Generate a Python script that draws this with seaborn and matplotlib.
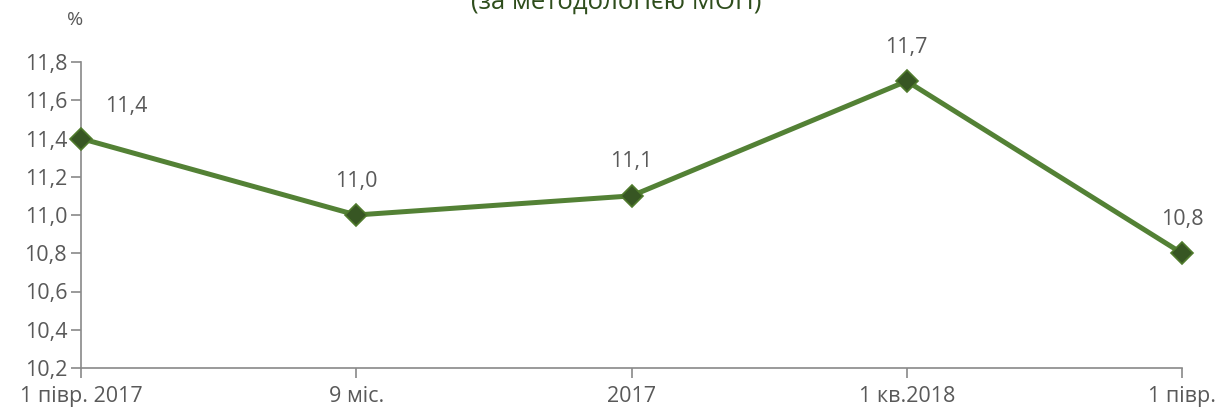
"""
Рівень безробіття (за методологією МОП), % - відтворення графіка
"""
import matplotlib
matplotlib.use("Agg")
import matplotlib.pyplot as plt
import seaborn as sns
import pandas as pd

# ----------------------------------------------------------
# Дані
# ----------------------------------------------------------
periods = ["1 півр. 2017", "9 міс.", "2017", "1 кв.2018", "1 півр."]
rate = [11.4, 11.0, 11.1, 11.7, 10.8]
y_ticks = [10.2, 10.4, 10.6, 10.8, 11.0, 11.2, 11.4, 11.6, 11.8]

df = pd.DataFrame({"period": periods, "rate": rate})

sns.set_style("white")
plt.rcParams["font.family"] = ["Open Sans", "DejaVu Sans"]

GRAY = "#595959"
AXIS = "#898989"
FS = 15.5

fig = plt.figure(figsize=(12.27, 4.17), dpi=100)
ax = fig.add_axes([81 / 1227, 49 / 417, 1101 / 1227, 306 / 417])

sns.lineplot(data=df, x="period", y="rate", ax=ax, color="#538135",
             linewidth=3.6, marker="D", markersize=11.5,
             markerfacecolor="#375623", markeredgecolor="#4f7a2c",
             markeredgewidth=1.2, sort=False, zorder=3, clip_on=False)

ax.set_xlim(0, len(periods) - 1)
ax.set_ylim(y_ticks[0], y_ticks[-1])
ax.set_yticks(y_ticks)
ax.set_yticklabels([f"{v:.1f}".replace(".", ",") for v in y_ticks])
ax.set_xlabel("")
ax.set_ylabel("")

for side in ["top", "right"]:
    ax.spines[side].set_visible(False)
for side in ["left", "bottom"]:
    ax.spines[side].set_color(AXIS)
    ax.spines[side].set_linewidth(1.2)

ax.tick_params(axis="both", left=True, bottom=True, colors=AXIS,
               labelcolor=GRAY, labelsize=FS, direction="out", length=7,
               width=1.2)
ax.tick_params(axis="y", pad=3)
ax.tick_params(axis="x", pad=6)

# підписи значень
for i, v in enumerate(rate):
    dx = 45 if i == 0 else 0
    dy = 34 if i > 0 else 32
    ax.annotate(f"{v:.1f}".replace(".", ","), (i, v), xytext=(dx * 0.72, dy * 0.72),
                textcoords="offset points", ha="center", va="center",
                fontsize=FS, color=GRAY)

fig.text(75 / 1227, 1 - 20 / 417, "%", ha="center", va="center",
         fontsize=14, color=GRAY)
fig.text(616 / 1227, 1 - 2 / 417, "(за методологією МОП)", ha="center",
         va="center", fontsize=18.5, color="#2e4d1c")

fig.savefig("out.png", dpi=100)
plt.close(fig)
